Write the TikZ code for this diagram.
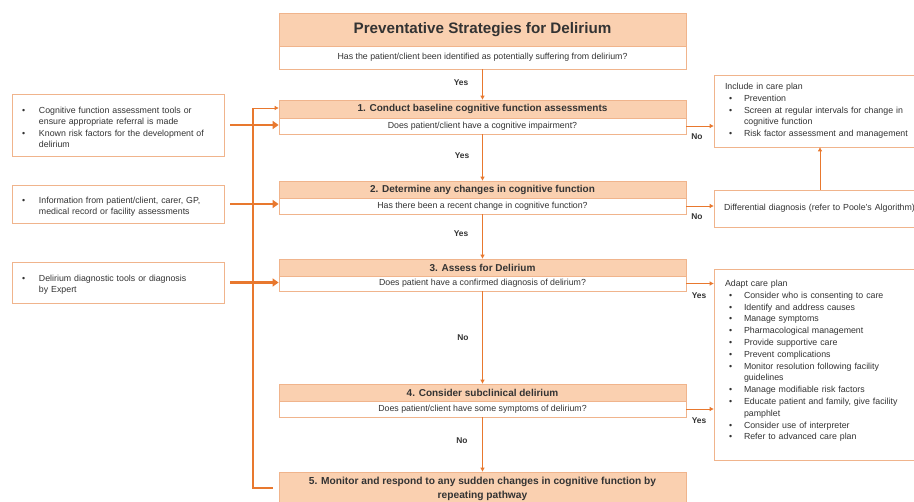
\documentclass[tikz,border=0pt]{standalone}
\usepackage{fontspec}
\setmainfont{Liberation Sans}
\usetikzlibrary{arrows.meta}
\definecolor{org}{HTML}{E8782E}
\definecolor{bord}{HTML}{F0B48C}
\definecolor{peach}{HTML}{FAD0B0}
\definecolor{txt}{HTML}{333333}
\newcommand{\bitem}[2][0pt]{\par\noindent\hangindent=#2\hangafter=1\makebox[#2][l]{\hspace{#1}\textbullet}}
\begin{document}
\begin{tikzpicture}[x=1pt,y=-1pt,
  hdr/.style={draw=bord, fill=peach, line width=0.8pt, minimum width=407pt, inner sep=0pt, text=txt, font=\bfseries\fontsize{10}{12}\selectfont},
  qst/.style={draw=bord, fill=white, line width=0.8pt, minimum width=407pt, inner sep=0pt, text=txt, font=\fontsize{8.8}{10}\selectfont},
  side/.style={draw=bord, fill=white, line width=0.8pt, align=left, inner xsep=10pt, inner ysep=0pt, text=txt, font=\fontsize{8.8}{11.4}\selectfont},
  lbl/.style={text=txt, font=\bfseries\fontsize{8.4}{10}\selectfont, inner sep=1pt},
  thinarrow/.style={draw=org, line width=0.9pt, -{Triangle[length=4pt,width=4pt]}},
  fatarrow/.style={draw=org, line width=2.4pt, -{Triangle[length=6pt,width=8pt]}},
  busline/.style={draw=org, line width=1.4pt}]
\useasboundingbox (0,0) rectangle (914,502);
% main column
\node[hdr, minimum height=33pt, font=\bfseries\fontsize{15.2}{18}\selectfont] (t1) at (482.5,29.5) {Preventative Strategies for Delirium};
\node[qst, minimum height=23pt] (t2) at (482.5,57.5) {Has the patient/client been identified as potentially suffering from delirium?};
\node[hdr, minimum height=18pt] (h1) at (482.5,109) {1. Conduct baseline cognitive function assessments};
\node[qst, minimum height=16pt] (q1) at (482.5,126) {Does patient/client have a cognitive impairment?};
\node[hdr, minimum height=17pt] (h2) at (482.5,189.5) {2. Determine any changes in cognitive function};
\node[qst, minimum height=16pt] (q2) at (482.5,206) {Has there been a recent change in cognitive function?};
\node[hdr, minimum height=17pt] (h3) at (482.5,267.5) {3. Assess for Delirium};
\node[qst, minimum height=15pt] (q3) at (482.5,283.5) {Does patient have a confirmed diagnosis of delirium?};
\node[hdr, minimum height=17pt] (h4) at (482.5,392.5) {4. Consider subclinical delirium};
\node[qst, minimum height=16pt] (q4) at (482.5,409) {Does patient/client have some symptoms of delirium?};
\node[hdr, minimum height=34pt, align=center, font=\bfseries\fontsize{10.2}{14}\selectfont] (h5) at (482.5,489) {5. Monitor and respond to any sudden changes in cognitive function by\\repeating pathway};
% left column
\node[side, text width=192pt, minimum height=62pt] (A) at (118,125) {\bitem{17pt}Cognitive function assessment tools or\newline ensure appropriate referral is made\bitem{17pt}Known risk factors for the development of\newline delirium\par};
\node[side, text width=192pt, minimum height=38pt] (B) at (118,204) {\bitem{17pt}Information from patient/client, carer, GP,\newline medical record or facility assessments\par};
\node[side, text width=192pt, minimum height=41pt] (C) at (118,282.5) {\bitem{17pt}Delirium diagnostic tools or diagnosis\newline by Expert\par};
% right column
\node[side, inner xsep=11pt, text width=190pt, minimum height=72pt, font=\fontsize{8.8}{11.7}\selectfont] (P) at (820,111) {Include in care plan\bitem[4pt]{19pt}Prevention\bitem[4pt]{19pt}Screen at regular intervals for change in\newline cognitive function\bitem[4pt]{19pt}Risk factor assessment and management\par};
\node[side, text width=192pt, minimum height=37pt] (D) at (820,208.5) {Differential diagnosis (refer to Poole’s Algorithm)};
\node[side, inner xsep=11pt, text width=190pt, minimum height=191pt, font=\fontsize{8.8}{11.8}\selectfont] (E) at (820,364.5) {Adapt care plan\bitem[4pt]{19pt}Consider who is consenting to care\bitem[4pt]{19pt}Identify and address causes\bitem[4pt]{19pt}Manage symptoms\bitem[4pt]{19pt}Pharmacological management\bitem[4pt]{19pt}Provide supportive care\bitem[4pt]{19pt}Prevent complications\bitem[4pt]{19pt}Monitor resolution following facility\newline guidelines\bitem[4pt]{19pt}Manage modifiable risk factors\bitem[4pt]{19pt}Educate patient and family, give facility\newline pamphlet\bitem[4pt]{19pt}Consider use of interpreter\bitem[4pt]{19pt}Refer to advanced care plan\par\vspace{7pt}};
% vertical flow
\draw[thinarrow] (t2) -- (h1);
\draw[thinarrow] (q1) -- (h2);
\draw[thinarrow] (q2) -- (h3);
\draw[thinarrow] (q3) -- (h4);
\draw[thinarrow] (q4) -- (h5);
\node[lbl] (l0) at (461,83) {Yes};
\node[lbl] (l1) at (462,156) {Yes};
\node[lbl] (l2) at (461,234) {Yes};
\node[lbl] (l3) at (463,338) {No};
\node[lbl] (l4) at (462,441) {No};
% left inputs
\draw[fatarrow, shorten <=6pt] (A.east) -- (A.east -| q1.west);
\draw[fatarrow, shorten <=6pt] (B.east) -- (B.east -| q2.west);
\draw[fatarrow, shorten <=6pt] (C.east) -- (C.east -| q3.west);
% feedback bus
\coordinate (bt) at (253,108);
\coordinate (bb) at (253,488);
\draw[busline] ([xshift=-6pt]bb -| h5.west) -- (bb) -- (bt);
\draw[thinarrow] (bt) -- (bt -| h1.west);
% right outputs
\draw[thinarrow] (q1.east) -- (q1.east -| P.west);
\draw[thinarrow] (q2.east) -- (q2.east -| D.west);
\draw[thinarrow] (q3.east) -- (q3.east -| E.west);
\draw[thinarrow] (q4.east) -- (q4.east -| E.west);
\draw[thinarrow] (D.north) -- (P.south);
\node[lbl] (r1) at (697,137) {No};
\node[lbl] (r2) at (697,217) {No};
\node[lbl] (r3) at (699,296) {Yes};
\node[lbl] (r4) at (699,421) {Yes};
\end{tikzpicture}
\end{document}
